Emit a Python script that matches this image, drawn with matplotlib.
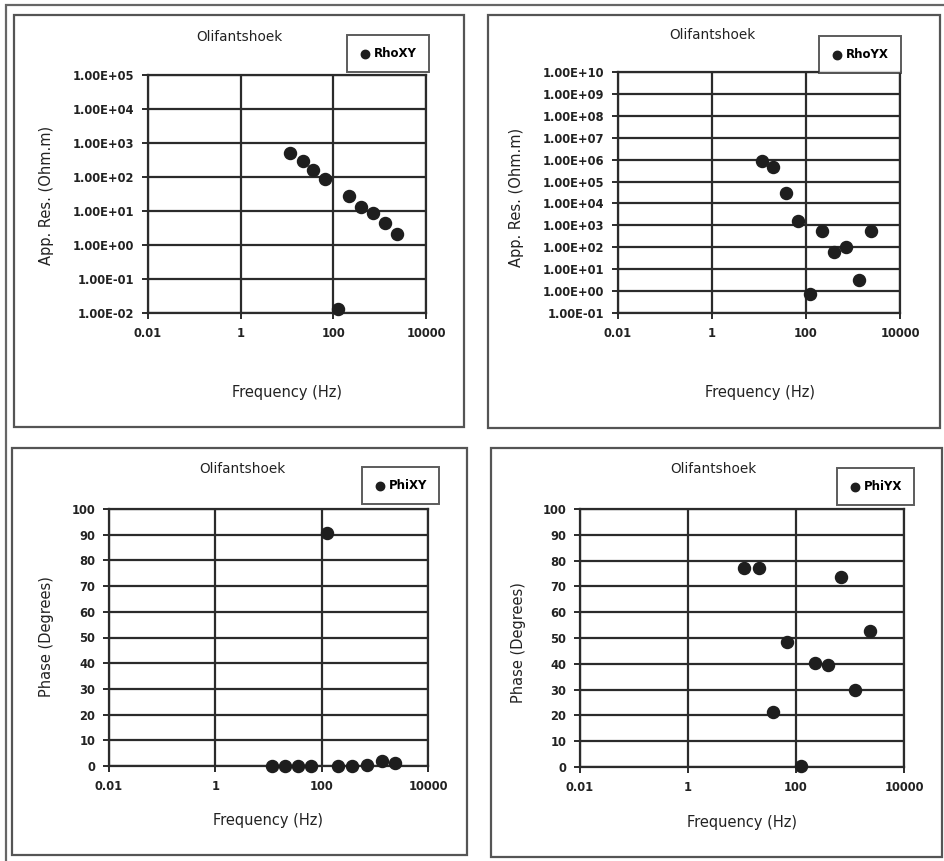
import numpy as np
import matplotlib.pyplot as plt
from matplotlib.patches import Rectangle
from matplotlib.ticker import FuncFormatter, FixedLocator, NullLocator

# Data (Olifantshoek MT sounding)
freq_rho_xy = [11.8, 21.7, 36, 67, 124, 214, 398, 728, 1318, 2350]
rho_xy = [500, 296, 162, 86, 0.013, 27, 13.5, 8.6, 4.4, 2.1]

freq_rho_yx = [11.5, 20, 37, 69, 122, 224, 400, 710, 1340, 2400]
rho_yx = [8.5e5, 4.8e5, 2.9e4, 1650, 0.73, 560, 64, 108, 3.1, 575]

freq_phi_xy = [11.5, 20, 36, 64, 125, 205, 380, 700, 1350, 2400]
phi_xy = [0.1, 0.1, 0.1, 0.1, 90.5, 0.1, 0.1, 0.2, 2, 1]

freq_phi_yx = [11, 21, 38, 67, 125, 223, 392, 690, 1240, 2350]
phi_yx = [77.2, 77.2, 21.3, 48.5, 0.2, 40.4, 39.5, 73.7, 29.8, 52.7]

x_ticks = [0.01, 1, 100, 10000]
x_tick_labels = ['0.01', '1', '100', '10000']

W, H = 945, 861
fig = plt.figure(figsize=(W / 100, H / 100), dpi=100)
fig.patch.set_facecolor('white')

FONT = 'DejaVu Sans'
GRID = '#2b2b2b'
TEXT = '#222222'


def fx(x):
    return x / W


def fy(y):
    return 1 - y / H


def box(x0, y0, x1, y1, lw=1.6, color='#555555'):
    fig.patches.append(Rectangle((fx(x0), fy(y1)), fx(x1 - x0), (y1 - y0) / H,
                                 transform=fig.transFigure, fill=False,
                                 edgecolor=color, linewidth=lw))


def make_axes(x0, y0, x1, y1):
    ax = fig.add_axes([fx(x0), fy(y1), fx(x1 - x0), (y1 - y0) / H])
    ax.set_facecolor('white')
    for s in ax.spines.values():
        s.set_color(GRID)
        s.set_linewidth(1.6)
    ax.set_xscale('log')
    ax.set_xlim(0.01, 10000)
    ax.xaxis.set_major_locator(FixedLocator(x_ticks))
    ax.xaxis.set_minor_locator(NullLocator())
    ax.set_xticklabels(x_tick_labels)
    ax.grid(True, color=GRID, linewidth=1.6)
    ax.tick_params(direction='out', length=4, width=1.4, color=GRID,
                   labelsize=8.3, pad=6, labelcolor=TEXT)
    ax.set_axisbelow(True)
    return ax


def dots(ax, x, y, label, leg_xy):
    ax.scatter(x, y, s=75, color='#1e1e1e', zorder=5, clip_on=False, label=label)
    leg = ax.legend(loc='upper left', bbox_to_anchor=(fx(leg_xy[0]), fy(leg_xy[1])),
                    bbox_transform=fig.transFigure, frameon=True, fancybox=False,
                    handletextpad=0.3, borderpad=1.0, handlelength=1.0,
                    borderaxespad=0,
                    prop={'family': FONT, 'size': 8.5, 'weight': 'bold'},
                    markerscale=0.7)
    leg.get_frame().set_edgecolor('#333333')
    leg.get_frame().set_linewidth(1.4)


def label_texts(title_xy, xl_xy, yl_xy, ylabel):
    fig.text(fx(title_xy[0]), fy(title_xy[1]), 'Olifantshoek', ha='center', va='center',
             fontsize=9.8, family=FONT, color=TEXT)
    fig.text(fx(xl_xy[0]), fy(xl_xy[1]), 'Frequency (Hz)', ha='center', va='center',
             fontsize=10.5, family=FONT, color=TEXT)
    fig.text(fx(yl_xy[0]), fy(yl_xy[1]), ylabel, ha='center', va='center',
             rotation=90, fontsize=10.5, family=FONT, color=TEXT)


def rho_axis(ax, lo, hi):
    ax.set_yscale('log')
    ax.set_ylim(10.0 ** lo, 10.0 ** hi)
    ax.yaxis.set_major_locator(FixedLocator([10.0 ** k for k in range(lo, hi + 1)]))
    ax.yaxis.set_minor_locator(NullLocator())
    ax.yaxis.set_major_formatter(FuncFormatter(lambda v, p: f'{v:.2E}'))


def phase_axis(ax):
    ax.set_ylim(0, 100)
    ax.set_yticks(range(0, 101, 10))


# outer frame and panel boxes
fig.patches.append(Rectangle((fx(6), -0.1), 1.2, fy(5) + 0.1, transform=fig.transFigure,
                             fill=False, edgecolor='#666666', linewidth=1.6))
box(14, 15, 464, 427)
box(488, 15, 940, 428)
box(12, 448, 467, 855)
box(491, 448, 942, 857)

# Panel 1: RhoXY
ax1 = make_axes(148, 75, 426, 313)
rho_axis(ax1, -2, 5)
dots(ax1, freq_rho_xy, rho_xy, 'RhoXY', (347, 35))
label_texts((239, 37), (287, 392), (47, 195), 'App. Res. (Ohm.m)')

# Panel 2: RhoYX
ax2 = make_axes(618, 72, 900, 313)
rho_axis(ax2, -1, 10)
dots(ax2, freq_rho_yx, rho_yx, 'RhoYX', (819, 36))
label_texts((712, 35), (760, 392), (517, 197), 'App. Res. (Ohm.m)')

# Panel 3: PhiXY
ax3 = make_axes(109, 509, 428, 766)
phase_axis(ax3)
dots(ax3, freq_phi_xy, phi_xy, 'PhiXY', (362, 467))
label_texts((242, 469), (268, 820), (47, 637), 'Phase (Degrees)')

# Panel 4: PhiYX
ax4 = make_axes(580, 509, 904, 767)
phase_axis(ax4)
dots(ax4, freq_phi_yx, phi_yx, 'PhiYX', (837, 468))
label_texts((713, 469), (742, 822), (519, 643), 'Phase (Degrees)')

for ax in (ax1, ax2, ax3, ax4):
    for lab in ax.get_xticklabels() + ax.get_yticklabels():
        lab.set_fontweight('bold')
        lab.set_family(FONT)

fig.savefig('out.png', dpi=100, facecolor='white')
